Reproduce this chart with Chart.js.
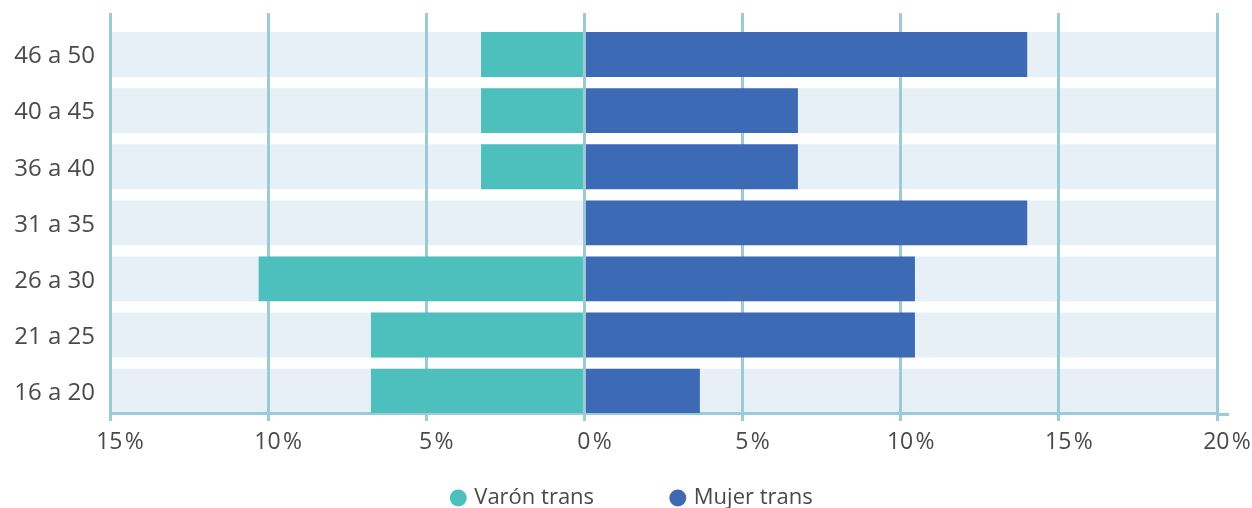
<!DOCTYPE html>
<html>
<head>
<meta charset="utf-8">
<script src="https://cdn.jsdelivr.net/npm/chart.js@4/dist/chart.umd.min.js"></script>
<style>
  html, body { margin: 0; padding: 0; background: #fff; }
  #wrap { width: 1252px; height: 508px; }
</style>
</head>
<body>
<div id="wrap"><canvas id="myChart"></canvas></div>

<script>
// rangos de edad, de arriba hacia abajo
var edades = ['46 a 50', '40 a 45', '36 a 40', '31 a 35', '26 a 30', '21 a 25', '16 a 20'];
// porcentajes (varón trans se dibuja hacia la izquierda)
var varonTrans = [3.27, 3.27, 3.27, 0, 10.3, 6.75, 6.75];
var mujerTrans = [14.0, 6.75, 6.75, 14.0, 10.45, 10.45, 3.65];
var xTicks = [-15, -10, -5, 0, 5, 10, 15, 20];

var gridColor = '#9dcad7';
var bandColor = '#e8f0f7';
var textColor = '#4a4a4a';
var fontFamily = "'Open Sans', sans-serif";

var bands = {
  id: 'bands',
  beforeDraw: function(chart) {
    var ctx = chart.ctx, x = chart.scales.x;
    var left = x.getPixelForValue(xTicks[0]);
    var right = x.getPixelForValue(xTicks[xTicks.length - 1]);
    ctx.save();
    ctx.fillStyle = bandColor;
    chart.getDatasetMeta(1).data.forEach(function(bar) {
      ctx.fillRect(left, bar.y - bar.height / 2, right - left, bar.height);
    });
    ctx.restore();
  },
  afterDatasetsDraw: function(chart) {
    var ctx = chart.ctx, a = chart.chartArea;
    var x0 = chart.scales.x.getPixelForValue(0);
    ctx.save();
    ctx.strokeStyle = gridColor;
    ctx.lineWidth = 2;
    ctx.beginPath();
    ctx.moveTo(x0, a.top);
    ctx.lineTo(x0, a.bottom);
    ctx.stroke();
    // el eje inferior sobresale un poco a la derecha
    ctx.lineWidth = 3;
    ctx.beginPath();
    ctx.moveTo(a.right, a.bottom + 1.5);
    ctx.lineTo(a.right + 12, a.bottom + 1.5);
    ctx.stroke();
    ctx.restore();
  }
};

var ctx = document.getElementById('myChart');
var config = {
  type: 'bar',
  data: {
    datasets: [{
      label: 'Varón trans',
      data: varonTrans.map(function(v, i) { return {x: -v, y: i}; }),
      backgroundColor: '#4dc0bd',
      borderWidth: 0
    }, {
      label: 'Mujer trans',
      data: mujerTrans.map(function(v, i) { return {x: v, y: i}; }),
      backgroundColor: '#3c6ab4',
      borderWidth: 0
    }]
  },
  options: {
    indexAxis: 'y',
    responsive: true,
    maintainAspectRatio: false,
    animation: false,
    categoryPercentage: 0.8,
    barPercentage: 1,
    layout: { padding: { left: 14, top: 13, right: 0, bottom: 0 } },
    scales: {
      x: {
        type: 'linear',
        stacked: true,
        min: xTicks[0],
        max: xTicks[xTicks.length - 1],
        afterBuildTicks: function(s) {
          s.ticks = xTicks.map(function(v) { return {value: v}; });
        },
        afterFit: function(s) {
          s.height = 45;
          s.paddingLeft = 0;
          s.paddingRight = 35;
        },
        grid: { color: gridColor, lineWidth: 3, tickLength: 8, tickColor: gridColor },
        border: { color: gridColor, width: 3 },
        ticks: {
          color: textColor,
          font: { family: fontFamily, size: 23 },
          padding: 8,
          labelOffset: 10,
          maxRotation: 0,
          autoSkip: false,
          callback: function(v) { return Math.abs(v) + '\u200a%'; }
        }
      },
      y: {
        type: 'linear',
        stacked: true,
        reverse: true,
        offset: false,
        min: -0.74,
        max: 6.39,
        afterFit: function(s) {
          s.width = 96;
          s.paddingTop = 0;
          s.paddingBottom = 0;
        },
        grid: { display: false, drawTicks: false },
        border: { display: false },
        ticks: {
          stepSize: 1,
          includeBounds: false,
          color: textColor,
          font: { family: fontFamily, size: 24 },
          padding: 15,
          labelOffset: 2,
          callback: function(v) { return edades[v] !== undefined ? edades[v] : ''; }
        }
      }
    },
    plugins: {
      legend: {
        position: 'bottom',
        maxHeight: 50,
        labels: {
          usePointStyle: true,
          pointStyle: 'circle',
          boxWidth: 10,
          boxHeight: 12,
          padding: 29,
          color: textColor,
          font: { family: fontFamily, size: 22 },
          generateLabels: function(chart) {
            var items = Chart.defaults.plugins.legend.labels.generateLabels(chart);
            // separación amplia entre las dos entradas
            items[0].text += '\u2003\u2003 ';
            return items;
          }
        }
      },
      tooltip: { enabled: false }
    }
  },
  plugins: [bands]
};
var myChart = new Chart(ctx, config);
</script>
</body>
</html>
